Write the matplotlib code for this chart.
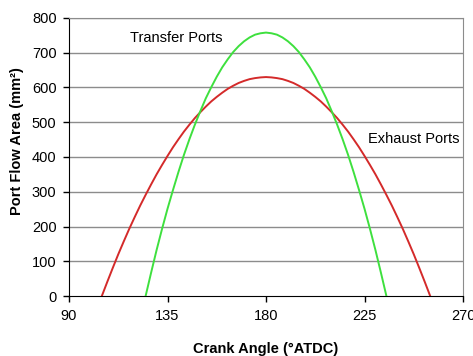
import matplotlib
matplotlib.use("Agg")
import matplotlib.pyplot as plt

plt.rcParams["font.family"] = ["Liberation Sans", "DejaVu Sans"]

# ---------- data ----------
exhaust_angle = [105, 107.5, 110, 112.5, 115, 117.5, 120, 122.5, 125, 127.5, 130,
                 132.5, 135, 137.5, 140, 142.5, 145, 147.5, 150, 152.5, 155,
                 157.5, 160, 162.5, 165, 167.5, 170, 172.5, 175, 177.5, 180,
                 182.5, 185, 187.5, 190, 192.5, 195, 197.5, 200, 202.5, 205,
                 207.5, 210, 212.5, 215, 217.5, 220, 222.5, 225, 227.5, 230,
                 232.5, 235, 237.5, 240, 242.5, 245, 247.5, 250, 252.5, 255]
exhaust_area = [0, 41, 81, 120, 157, 193, 227, 260, 291, 321, 350,
                377, 403, 428, 451, 473, 493, 512, 529, 545, 560,
                573, 585, 596, 605, 613, 619, 624, 627, 629, 630,
                629, 627, 624, 619, 613, 605, 596, 585, 573, 560,
                545, 529, 512, 493, 473, 451, 428, 403, 377, 350,
                321, 291, 260, 227, 193, 157, 120, 81, 41, 0]

transfer_angle = [125, 127.5, 130, 132.5, 135, 137.5, 140, 142.5, 145, 147.5,
                  150, 152.5, 155, 157.5, 160, 162.5, 165, 167.5, 170, 172.5,
                  175, 177.5, 180, 182.5, 185, 187.5, 190, 192.5, 195, 197.5,
                  200, 202.5, 205, 207.5, 210, 212.5, 215, 217.5, 220, 222.5,
                  225, 227.5, 230, 232.5, 235]
transfer_area = [0, 67, 132, 193, 251, 305, 357, 406, 451, 493,
                 532, 569, 601, 631, 658, 681, 702, 719, 733, 744,
                 752, 756, 758, 756, 752, 744, 733, 719, 702, 681,
                 658, 631, 601, 569, 532, 493, 451, 406, 357, 305,
                 251, 193, 132, 67, 0]

x_ticks = [90, 135, 180, 225, 270]
y_ticks = [0, 100, 200, 300, 400, 500, 600, 700, 800]
# -------------------------------------------------

fig = plt.figure(figsize=(4.73, 3.56), dpi=100)
ax = fig.add_axes([0.1459, 0.1685, 0.833, 0.781])

for yv in y_ticks[1:]:
    ax.axhline(yv, color="#8c8c8c", linewidth=1.0, zorder=1)

ax.plot(exhaust_angle, exhaust_area, color="#d42a2a", linewidth=1.4, zorder=3)
ax.plot(transfer_angle, transfer_area, color="#3ee03e", linewidth=1.4, zorder=3)

ax.set_xlim(90, 270)
ax.set_ylim(0, 800)
ax.set_xticks(x_ticks)
ax.set_yticks(y_ticks)
ax.tick_params(axis="both", labelsize=10.5, direction="out", length=4,
               width=1, color="black", pad=5)

for side in ("top", "right"):
    ax.spines[side].set_color("#8c8c8c")
for side in ("left", "bottom"):
    ax.spines[side].set_color("black")

ax.text(138.9, 742, "Transfer Ports", fontsize=10.5, ha="center", va="center")
ax.text(247.3, 452, "Exhaust Ports", fontsize=10.5, ha="center", va="center")

ax.set_xlabel("Crank Angle (°ATDC)", fontsize=10.5, fontweight="bold", labelpad=14)
fig.text(17 / 473, 1 - 141 / 356, "Port Flow Area (mm²)", fontsize=10.5,
         fontweight="bold", rotation=90, ha="center", va="center")

fig.savefig("out.png", dpi=100)
